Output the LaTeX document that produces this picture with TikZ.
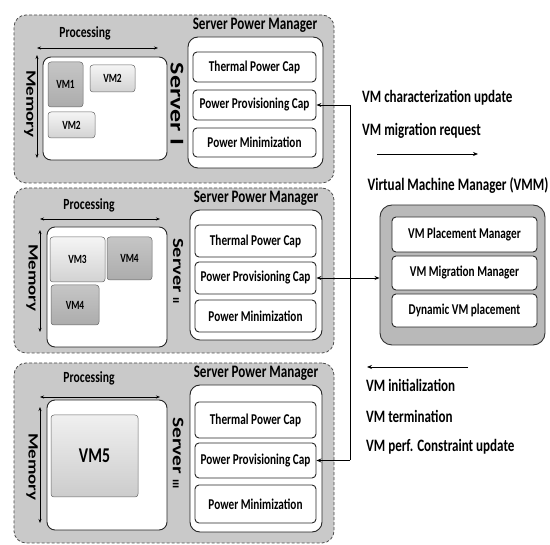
\documentclass[tikz,border=0pt]{standalone}
\usepackage{fontspec}
\usepackage{graphicx}
\setmainfont{Carlito}[FakeStretch=0.75]
\newfontfamily\plainf{Carlito}
\usetikzlibrary{arrows.meta}
\newcommand\fs[1]{\fontsize{#1}{#1}\selectfont}
\newcommand\vtext[2]{\scalebox{1}[0.75]{\plainf\bfseries\fs{#1}#2}}
\tikzset{
  x=1pt, y=-1pt,
  every node/.style={font=\bfseries, inner sep=0pt},
  srv/.style={draw=black!70, densely dashed, rounded corners=12pt, fill=gray!42, line width=0.8pt},
  spm/.style={draw=black!85, rounded corners=10pt, fill=white, line width=0.9pt},
  ibox/.style={draw=black!85, rounded corners=4pt, fill=white, line width=0.9pt, font=\bfseries\fs{15}},
  mem/.style={draw=black!85, rounded corners=8pt, fill=white, line width=0.9pt},
  vmdark/.style={draw=black!60, rounded corners=3pt, top color=gray!45, bottom color=gray!65, line width=0.5pt, font=\bfseries\fs{12.5}},
  vmlight/.style={draw=black!60, rounded corners=3pt, top color=gray!8, bottom color=gray!35, line width=0.5pt, font=\bfseries\fs{12.5}},
  biglabel/.style={font=\bfseries\fs{17.5}},
  smlabel/.style={font=\bfseries\fs{15.5}},
  rotlabel/.style={rotate=-90},
  dbl/.style={{Stealth[length=4pt,width=3pt]}-{Stealth[length=4pt,width=3pt]}, line width=0.7pt},
  conn/.style={line width=0.8pt},
  msg/.style={font=\bfseries\fs{17.4}, anchor=west},
}
\begin{document}
\begin{tikzpicture}
\useasboundingbox (0,0) rectangle (550,545);

% ---------- Server I ----------
\node[srv, minimum width=320pt, minimum height=168pt] (s1) at (174,99) {};
\node[biglabel] (s1spmlab) at (255,25) {Server Power Manager};
\node[spm, minimum width=135pt, minimum height=131pt] (s1spm) at (255.5,102.5) {};
\node[ibox, minimum width=123pt, minimum height=30pt] (s1tpc) at (254.5,67) {Thermal Power Cap};
\node[ibox, minimum width=123pt, minimum height=30pt] (s1ppc) at (254.5,105) {Power Provisioning Cap};
\node[ibox, minimum width=123pt, minimum height=29pt] (s1pm) at (254.5,142.5) {Power Minimization};
\node[smlabel] (s1proc) at (85,33) {Processing};
\coordinate (s1pa) at (37,48); \coordinate (s1pb) at (158,48);
\draw[dbl] (s1pa) -- (s1pb);
\coordinate (s1ma) at (37,55); \coordinate (s1mb) at (37,158);
\draw[dbl] (s1ma) -- (s1mb);
\node[rotlabel] (s1memlab) at (30,104) {\vtext{19}{Memory}};
\node[mem, minimum width=124pt, minimum height=103pt] (s1mem) at (105,108.5) {};
\node[vmdark, minimum width=35pt, minimum height=45pt] (s1vm1) at (65.5,84.5) {VM1};
\node[vmlight, minimum width=45pt, minimum height=27pt] (s1vm2a) at (112.5,78.5) {VM2};
\node[vmlight, minimum width=47pt, minimum height=26pt] (s1vm2b) at (71.5,125) {VM2};
\node[rotlabel] (s1name) at (177,104) {\vtext{26}{Server I}};

% ---------- Server II ----------
\node[srv, minimum width=320pt, minimum height=165pt] (s2) at (174,270.5) {};
\node[biglabel] (s2spmlab) at (256,198) {Server Power Manager};
\node[spm, minimum width=132pt, minimum height=130pt] (s2spm) at (256,275) {};
\node[ibox, minimum width=121pt, minimum height=32pt] (s2tpc) at (255.5,241) {Thermal Power Cap};
\node[ibox, minimum width=121pt, minimum height=32pt] (s2ppc) at (255.5,278) {Power Provisioning Cap};
\node[ibox, minimum width=121pt, minimum height=32pt] (s2pm) at (255.5,316) {Power Minimization};
\node[smlabel] (s2proc) at (89,205) {Processing};
\coordinate (s2pa) at (40,219); \coordinate (s2pb) at (160,219);
\draw[dbl] (s2pa) -- (s2pb);
\coordinate (s2ma) at (40,230); \coordinate (s2mb) at (40,332);
\draw[dbl] (s2ma) -- (s2mb);
\node[rotlabel] (s2memlab) at (32,278) {\vtext{19}{Memory}};
\node[mem, minimum width=120pt, minimum height=120pt] (s2mem) at (107,287) {};
\node[vmlight, minimum width=55pt, minimum height=45pt] (s2vm3) at (77.5,259.5) {VM3};
\node[vmdark, minimum width=45pt, minimum height=43pt] (s2vm4a) at (129.5,258.5) {VM4};
\node[vmdark, minimum width=48pt, minimum height=40pt] (s2vm4b) at (75,305) {VM4};
\node[rotlabel] (s2name) at (178,271) {\vtext{20.5}{Server {\fs{12}II}}};

% ---------- Server III ----------
\node[srv, minimum width=320pt, minimum height=180pt] (s3) at (174,453) {};
\node[biglabel] (s3spmlab) at (256,373) {Server Power Manager};
\node[spm, minimum width=132pt, minimum height=147pt] (s3spm) at (256,458.5) {};
\node[ibox, minimum width=121pt, minimum height=36pt] (s3tpc) at (255.5,420) {Thermal Power Cap};
\node[ibox, minimum width=121pt, minimum height=35pt] (s3ppc) at (255.5,460.5) {Power Provisioning Cap};
\node[ibox, minimum width=121pt, minimum height=38pt] (s3pm) at (255.5,504) {Power Minimization};
\node[smlabel] (s3proc) at (89,378) {Processing};
\coordinate (s3pa) at (40,397); \coordinate (s3pb) at (160,397);
\draw[dbl] (s3pa) -- (s3pb);
\coordinate (s3ma) at (40,407); \coordinate (s3mb) at (40,523);
\draw[dbl] (s3ma) -- (s3mb);
\node[rotlabel] (s3memlab) at (32,467) {\vtext{19}{Memory}};
\node[mem, minimum width=120pt, minimum height=130pt] (s3mem) at (107,465) {};
\node[vmlight, top color=gray!12, bottom color=gray!40, minimum width=87pt, minimum height=82pt, font=\bfseries\fs{21}] (s3vm5) at (94.5,456) {VM5};
\node[rotlabel] (s3name) at (178,453) {\vtext{21.5}{Server {\fs{12}III}}};

% ---------- VMM ----------
\node[font=\bfseries\fs{17.5}] (vmmlab) at (458,185) {Virtual Machine Manager (VMM)};
\node[draw=black!80, rounded corners=12pt, fill=gray!55, line width=0.9pt, minimum width=165pt, minimum height=140pt] (vmm) at (462.5,275) {};
\node[ibox, minimum width=145pt, minimum height=35pt] (vmpm) at (464.5,234.5) {VM Placement Manager};
\node[ibox, minimum width=145pt, minimum height=34pt] (vmmm) at (464.5,273) {VM Migration Manager};
\node[ibox, minimum width=145pt, minimum height=33pt] (dvp) at (464.5,310.5) {Dynamic VM placement};

% ---------- Connectors ----------
\coordinate (ctop) at (350,105);
\coordinate (cbot) at (350,460.5);
\draw[conn, -{Stealth[length=5pt,width=4pt]}] (ctop) -- (s1ppc.east);
\draw[conn, -{Stealth[length=5pt,width=4pt]}] (cbot) -- (s3ppc.east);
\draw[conn] (ctop) -- (cbot);
\draw[conn, {Stealth[length=5pt,width=4pt]}-{Stealth[length=5pt,width=4pt]}] (s2ppc.east) -- (s2ppc.east -| vmm.west);

% ---------- Messages ----------
\node[msg] (m1) at (362,98) {VM characterization update};
\node[msg] (m2) at (362,131) {VM migration request};
\coordinate (ra) at (377,154); \coordinate (rb) at (478,154);
\draw[conn, -{Stealth[length=5pt,width=4pt]}] (ra) -- (rb);
\coordinate (la) at (468,367); \coordinate (lb) at (367,367);
\draw[conn, -{Stealth[length=5pt,width=4pt]}] (la) -- (lb);
\node[msg] (m3) at (366,385) {VM initialization};
\node[msg] (m4) at (366,416) {VM termination};
\node[msg] (m5) at (366,447) {VM perf. Constraint update};
\end{tikzpicture}
\end{document}
